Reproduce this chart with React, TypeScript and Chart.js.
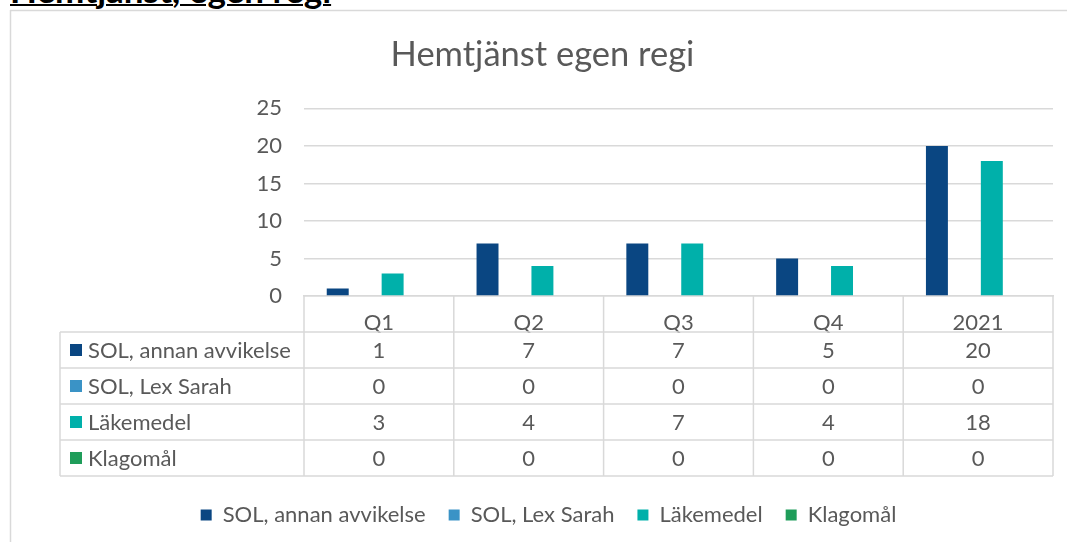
import React, { useEffect, useRef } from "react";
import { Chart, registerables } from "chart.js";

Chart.register(...registerables);

const categories = ["Q1", "Q2", "Q3", "Q4", "2021"];
const seriesNames = ["SOL, annan avvikelse", "SOL, Lex Sarah", "Läkemedel", "Klagomål"];
const solAnnan = [1, 7, 7, 5, 20];
const solLexSarah = [0, 0, 0, 0, 0];
const lakemedel = [3, 4, 7, 4, 18];
const klagomal = [0, 0, 0, 0, 0];
const seriesColors = ["#0A4682", "#3A93C6", "#00B0AA", "#1F9D5A"];
const yMax = 25;
const yStep = 5;

const FONT = "Lato, 'Open Sans', sans-serif";
const TEXT = "#595959";
const GRID = "#d9d9d9";

const framePlugin = {
  id: "frame",
  beforeDraw(chart: any) {
    const { ctx, width, height } = chart;
    ctx.save();
    ctx.strokeStyle = GRID;
    ctx.lineWidth = 1.5;
    ctx.beginPath();
    ctx.moveTo(10, 10.5);
    ctx.lineTo(width, 10.5);
    ctx.moveTo(10.5, 10);
    ctx.lineTo(10.5, height);
    ctx.stroke();
    ctx.restore();
  },
};

const legendShiftPlugin = {
  id: "legendShift",
  afterLayout(chart: any) {
    const lg = chart.legend;
    if (!lg) return;
    const dx = 6;
    lg.left += dx;
    lg.right += dx;
    if (lg.legendHitBoxes) lg.legendHitBoxes.forEach((h: any) => (h.left += dx));
  },
};

const dataTablePlugin = {
  id: "dataTable",
  afterDraw(chart: any) {
    const { ctx, chartArea, scales } = chart;
    const x = scales.x;
    const top = chartArea.bottom;
    const rowH = 36;
    const tableLeft = 60;
    const n = chart.data.labels.length;
    const edges: number[] = [];
    for (let i = 0; i <= n; i++) {
      if (i === 0) edges.push(x.left);
      else if (i === n) edges.push(x.right);
      else edges.push((x.getPixelForValue(i - 1) + x.getPixelForValue(i)) / 2);
    }
    const rows = chart.data.datasets.length;
    const bottom = top + rowH * (rows + 1);
    ctx.save();
    ctx.strokeStyle = GRID;
    ctx.lineWidth = 1.5;
    ctx.beginPath();
    edges.forEach((e) => {
      ctx.moveTo(e, top);
      ctx.lineTo(e, bottom);
    });
    ctx.moveTo(tableLeft, top + rowH);
    ctx.lineTo(tableLeft, bottom);
    for (let r = 1; r <= rows + 1; r++) {
      const y = top + rowH * r;
      ctx.moveTo(tableLeft, y);
      ctx.lineTo(x.right, y);
    }
    ctx.stroke();
    ctx.font = `22px ${FONT}`;
    ctx.textBaseline = "middle";
    chart.data.datasets.forEach((ds: any, r: number) => {
      const cy = top + rowH * (r + 1) + rowH / 2;
      ctx.fillStyle = ds.backgroundColor;
      ctx.fillRect(70, cy - 6, 12, 12);
      ctx.fillStyle = TEXT;
      ctx.textAlign = "left";
      ctx.fillText(ds.label, 88, cy + 1);
      ctx.textAlign = "center";
      ds.data.forEach((v: number, i: number) => {
        ctx.fillText(String(v), x.getPixelForValue(i), cy + 1);
      });
    });
    ctx.restore();
  },
};

export default function App() {
  const ref = useRef<HTMLCanvasElement>(null);

  useEffect(() => {
    if (!ref.current) return;
    const values = [solAnnan, solLexSarah, lakemedel, klagomal];
    const chart = new Chart(ref.current, {
      type: "bar",
      data: {
        labels: categories,
        datasets: seriesNames.map((name, i) => ({
          label: name,
          data: values[i],
          backgroundColor: seriesColors[i],
          borderWidth: 0,
          categoryPercentage: 0.733,
          barPercentage: 0.8,
        })),
      },
      options: {
        responsive: false,
        animation: false,
        layout: { padding: { left: 32, right: 14, top: 0, bottom: 6 } },
        plugins: {
          title: {
            display: true,
            text: "Hemtjänst egen regi",
            color: TEXT,
            font: { family: FONT, size: 34.5, weight: "normal" },
            padding: { top: 34, bottom: 33 },
          },
          legend: {
            position: "bottom",
            labels: {
              boxWidth: 11,
              boxHeight: 11,
              padding: 23,
              color: TEXT,
              font: { family: FONT, size: 22 },
            },
          },
          tooltip: { enabled: false },
        },
        scales: {
          x: {
            offset: true,
            grid: { display: false },
            border: { display: true, color: GRID, width: 1.5 },
            ticks: { color: TEXT, font: { family: FONT, size: 22 }, padding: 6 },
            afterFit: (s: any) => {
              s.height = 185;
            },
          },
          y: {
            min: 0,
            max: yMax,
            ticks: { stepSize: yStep, color: TEXT, font: { family: FONT, size: 22 }, padding: 22 },
            grid: { color: GRID, lineWidth: 1.5, drawTicks: false },
            border: { display: false },
            afterFit: (s: any) => {
              s.width = 272;
            },
          },
        },
      },
      plugins: [framePlugin, legendShiftPlugin, dataTablePlugin],
    } as any);
    return () => chart.destroy();
  }, []);

  return (
    <div style={{ position: "absolute", left: 0, top: 0, width: 1067, height: 542, overflow: "hidden", background: "#fff" }}>
      <div
        style={{
          position: "absolute",
          left: 10,
          top: -28,
          fontFamily: FONT,
          fontWeight: "bold",
          fontSize: 35,
          lineHeight: "35px",
          color: "#000",
          textDecoration: "underline",
          textDecorationThickness: "2px",
          whiteSpace: "nowrap",
        }}
      >
        Hemtjänst, egen regi
      </div>
      <canvas ref={ref} width={1067} height={542} style={{ position: "absolute", left: 0, top: 0 }} />
    </div>
  );
}
